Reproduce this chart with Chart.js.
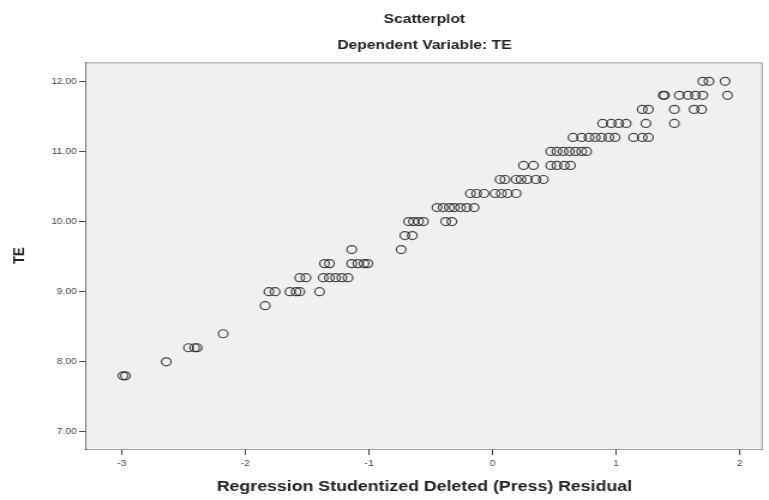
<!DOCTYPE html>
<html>
<head>
<meta charset="utf-8">
<script src="https://cdn.jsdelivr.net/npm/chart.js@4/dist/chart.umd.min.js"></script>
<style>
  html, body { margin: 0; padding: 0; background: #fff; }
  /* the SPSS picture is stretched sideways, so the canvas is too */
  #scatter { display: block; width: 769px; height: 500px; }
</style>
</head>
<body>
<canvas id="scatter" width="641" height="500" style="width:769px;height:500px"></canvas>
<script>
const teLevels = [7.8, 8.0, 8.2, 8.4, 8.8, 9.0, 9.2, 9.4, 9.6, 9.8, 10.0,
  10.2, 10.4, 10.6, 10.8, 11.0, 11.2, 11.4, 11.6, 11.8, 12.0];

const residualRows = [
  [-2.99, -2.97],
  [-2.64],
  [-2.46, -2.41, -2.39],
  [-2.18],
  [-1.84],
  [-1.81, -1.76, -1.64, -1.59, -1.56, -1.40],
  [-1.56, -1.51, -1.37, -1.32, -1.27, -1.22, -1.17],
  [-1.36, -1.32, -1.14, -1.09, -1.04, -1.01],
  [-1.14, -0.74],
  [-0.71, -0.65],
  [-0.68, -0.64, -0.60, -0.56, -0.38, -0.33],
  [-0.45, -0.40, -0.35, -0.31, -0.26, -0.21, -0.15],
  [-0.18, -0.13, -0.07, 0.02, 0.07, 0.12, 0.19],
  [0.06, 0.10, 0.19, 0.23, 0.28, 0.35, 0.41],
  [0.25, 0.33, 0.47, 0.52, 0.58, 0.63],
  [0.47, 0.52, 0.57, 0.62, 0.67, 0.72, 0.76],
  [0.65, 0.72, 0.78, 0.83, 0.88, 0.94, 0.99, 1.14, 1.21, 1.26],
  [0.89, 0.96, 1.02, 1.08, 1.24, 1.47],
  [1.21, 1.26, 1.47, 1.63, 1.69],
  [1.38, 1.39, 1.51, 1.58, 1.64, 1.70, 1.90],
  [1.70, 1.75, 1.88]
];

const xTicks = [-3, -2, -1, 0, 1, 2];
const yTicks = [7, 8, 9, 10, 11, 12];

const points = [];
teLevels.forEach((te, i) => {
  residualRows[i].forEach(r => points.push({ x: r, y: te }));
});

/* grey plot background + thin frame on top and right */
const plotFrame = {
  id: "plotFrame",
  beforeDatasetsDraw(chart) {
    const { ctx, chartArea: a } = chart;
    ctx.save();
    ctx.fillStyle = "#f0f0f0";
    ctx.fillRect(a.left, a.top, a.right - a.left, a.bottom - a.top);
    ctx.strokeStyle = "#9a9a9a";
    ctx.lineWidth = 1;
    ctx.beginPath();
    ctx.moveTo(a.left, a.top + 0.5);
    ctx.lineTo(a.right - 0.5, a.top + 0.5);
    ctx.lineTo(a.right - 0.5, a.bottom);
    ctx.stroke();
    ctx.restore();
  }
};

const family = "'Liberation Sans', Arial, sans-serif";
const tickFont = { family: family, size: 8.5 };
const titleFont = { family: family, size: 13, weight: "bold" };
const axisFont = { family: family, size: 14.8, weight: "bold" };

new Chart(document.getElementById("scatter"), {
  type: "scatter",
  data: {
    datasets: [{
      label: "TE",
      data: points,
      pointStyle: "circle",
      pointRadius: 4,
      pointHoverRadius: 4,
      pointBorderWidth: 1.2,
      pointBorderColor: "rgba(30,30,30,0.8)",
      pointBackgroundColor: "rgba(0,0,0,0)"
    }]
  },
  options: {
    responsive: false,
    animation: false,
    devicePixelRatio: 1,
    layout: { padding: { left: 0, right: 1.7, top: 0, bottom: 0 } },
    plugins: {
      legend: { display: false },
      tooltip: { enabled: false },
      title: {
        display: true,
        text: "Scatterplot",
        fullSize: false,
        color: "#222",
        font: titleFont,
        padding: { top: 12, bottom: 5 }
      },
      subtitle: {
        display: true,
        text: "Dependent Variable: TE",
        fullSize: false,
        color: "#222",
        font: titleFont,
        padding: { top: 5, bottom: 9.2 }
      }
    },
    scales: {
      x: {
        type: "linear",
        min: -3.289,
        max: 2.185,
        afterBuildTicks: scale => { scale.ticks = xTicks.map(v => ({ value: v })); },
        afterFit: scale => { scale.height = 51; },
        ticks: {
          color: "#444",
          font: tickFont,
          padding: 4,
          maxRotation: 0,
          callback: v => String(v)
        },
        grid: {
          drawOnChartArea: false,
          drawTicks: true,
          tickLength: 6,
          color: "#444"
        },
        border: { display: true, color: "#444", width: 1.4 },
        title: {
          display: true,
          text: "Regression Studentized Deleted (Press) Residual",
          color: "#222",
          font: axisFont,
          padding: { top: 0, bottom: 4 }
        }
      },
      y: {
        type: "linear",
        min: 6.756,
        max: 12.27,
        afterBuildTicks: scale => { scale.ticks = yTicks.map(v => ({ value: v })); },
        afterFit: scale => { scale.width = 71.7; },
        ticks: {
          color: "#444",
          font: tickFont,
          padding: 2,
          callback: v => Number(v).toFixed(2)
        },
        grid: {
          drawOnChartArea: false,
          drawTicks: true,
          tickLength: 5.8,
          color: "#444"
        },
        border: { display: true, color: "#444", width: 1.6 },
        title: {
          display: true,
          text: "TE",
          color: "#222",
          font: titleFont,
          padding: { top: 8.9, bottom: 0 }
        }
      }
    }
  },
  plugins: [plotFrame]
});
</script>
</body>
</html>
